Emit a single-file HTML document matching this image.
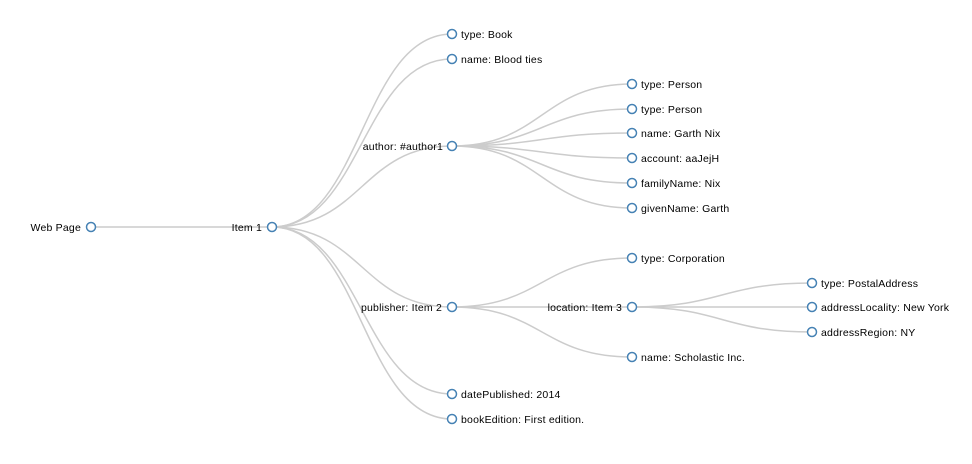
<!DOCTYPE html>
<html><head><meta charset="utf-8"><style>
html,body{margin:0;padding:0;background:#fff;}
svg{display:block;}
path{fill:none;stroke:#ccc;stroke-width:1.5px;}
circle{fill:#fff;stroke:steelblue;stroke-width:1.5px;}
text{font-family:"Liberation Sans",sans-serif;font-size:10.5px;letter-spacing:0.2px;fill:#000;}
.l{text-anchor:end;}
</style></head><body>
<svg width="972" height="464" viewBox="0 0 972 464">
<g>
<path d="M91,227C181.5,227 181.5,227 272,227"/>
<path d="M272,227C362,227 362,34 452,34"/>
<path d="M272,227C362,227 362,59 452,59"/>
<path d="M272,227C362,227 362,146 452,146"/>
<path d="M272,227C362,227 362,307 452,307"/>
<path d="M272,227C362,227 362,394 452,394"/>
<path d="M272,227C362,227 362,419 452,419"/>
<path d="M452,146C542,146 542,84 632,84"/>
<path d="M452,146C542,146 542,109 632,109"/>
<path d="M452,146C542,146 542,133 632,133"/>
<path d="M452,146C542,146 542,158 632,158"/>
<path d="M452,146C542,146 542,183 632,183"/>
<path d="M452,146C542,146 542,208 632,208"/>
<path d="M452,307C542,307 542,258 632,258"/>
<path d="M452,307C542,307 542,307 632,307"/>
<path d="M452,307C542,307 542,357 632,357"/>
<path d="M632,307C722,307 722,283 812,283"/>
<path d="M632,307C722,307 722,307 812,307"/>
<path d="M632,307C722,307 722,332 812,332"/>
</g>
<g>
<circle cx="91" cy="227" r="4.5"/><text class="l" x="81" y="231">Web Page</text>
<circle cx="272" cy="227" r="4.5"/><text class="l" x="262" y="231">Item 1</text>
<circle cx="452" cy="34" r="4.5"/><text x="461" y="38">type: Book</text>
<circle cx="452" cy="59" r="4.5"/><text x="461" y="63">name: Blood ties</text>
<circle cx="452" cy="146" r="4.5"/><text class="l" x="443" y="150">author: #author1</text>
<circle cx="452" cy="307" r="4.5"/><text class="l" x="442" y="311">publisher: Item 2</text>
<circle cx="452" cy="394" r="4.5"/><text x="461" y="398">datePublished: 2014</text>
<circle cx="452" cy="419" r="4.5"/><text x="461" y="423">bookEdition: First edition.</text>
<circle cx="632" cy="84" r="4.5"/><text x="641" y="88">type: Person</text>
<circle cx="632" cy="109" r="4.5"/><text x="641" y="113">type: Person</text>
<circle cx="632" cy="133" r="4.5"/><text x="641" y="137">name: Garth Nix</text>
<circle cx="632" cy="158" r="4.5"/><text x="641" y="162">account: aaJejH</text>
<circle cx="632" cy="183" r="4.5"/><text x="641" y="187">familyName: Nix</text>
<circle cx="632" cy="208" r="4.5"/><text x="641" y="212">givenName: Garth</text>
<circle cx="632" cy="258" r="4.5"/><text x="641" y="262">type: Corporation</text>
<circle cx="632" cy="307" r="4.5"/><text class="l" x="622" y="311">location: Item 3</text>
<circle cx="632" cy="357" r="4.5"/><text x="641" y="361">name: Scholastic Inc.</text>
<circle cx="812" cy="283" r="4.5"/><text x="821" y="287">type: PostalAddress</text>
<circle cx="812" cy="307" r="4.5"/><text x="821" y="311">addressLocality: New York</text>
<circle cx="812" cy="332" r="4.5"/><text x="821" y="336">addressRegion: NY</text>
</g>
</svg>
</body></html>
